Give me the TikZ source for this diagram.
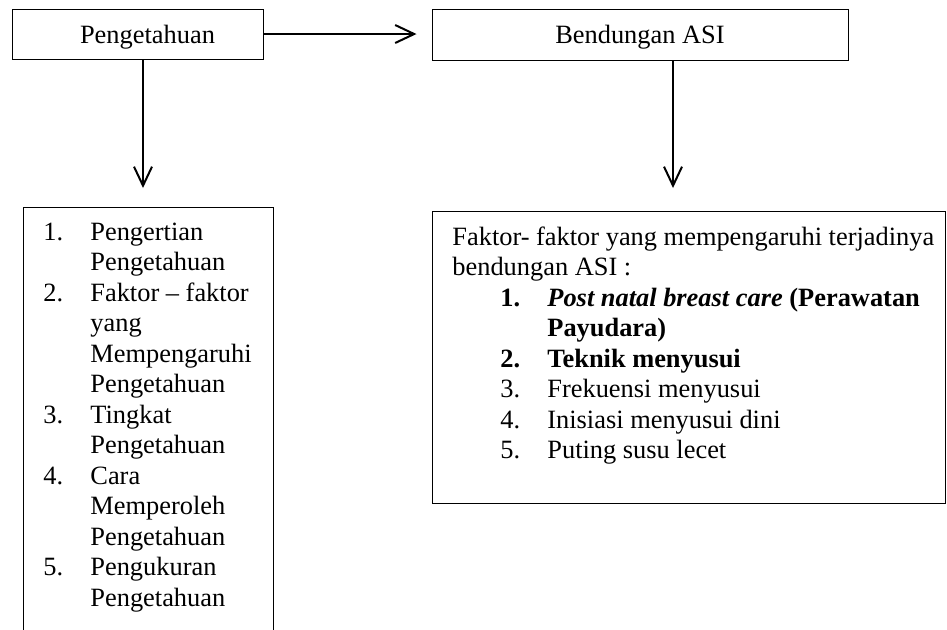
\documentclass[tikz,border=0pt]{standalone}
\usepackage{fontspec}
\setmainfont{Liberation Serif}
\usetikzlibrary{arrows.meta}
\newcommand{\butir}[2]{\makebox[23.5pt][l]{#1}#2}
\newcommand{\lanjut}[1]{\hspace*{23.5pt}#1}

\begin{document}
\begin{tikzpicture}[x=0.5pt, y=-0.5pt,
    kotak/.style={draw, line width=0.5pt, inner sep=0pt},
    panah/.style={-{Straight Barb[length=9.5pt,width=9pt]}, line width=1pt},
    teks/.style={font=\fontsize{13.2}{15.25}\selectfont}]
  \useasboundingbox (0,0) rectangle (947,629);
  % upper boxes
  \node [kotak, teks, text height=12pt, text depth=2.9pt, minimum width=125.5pt, minimum height=25pt] (peng) at (137.5,34) {\hspace*{10pt}Pengetahuan};
  \node [kotak, teks, text height=12pt, text depth=2.9pt, minimum width=208pt, minimum height=25.5pt] (bend) at (640,34.5) {Bendungan ASI};
  % lower boxes
  \node [kotak, anchor=north west, minimum width=125pt, minimum height=216.5pt] (kiri) at (23,207) {};
  \node [kotak, anchor=north west, minimum width=256.5pt, minimum height=146pt] (kanan) at (432,211) {};
  % arrows
  \draw [panah, shorten >=7.5pt] (peng.east) -- (peng.east -| bend.west);
  \draw [panah, shorten >=9.5pt] ([xshift=2.75pt]peng.south) -- ([xshift=2.75pt]peng.south |- kiri.north);
  \draw [panah, shorten >=11.5pt] ([xshift=16.5pt]bend.south) -- ([xshift=16.5pt]bend.south |- kanan.north);
  % lists
  \node [teks, anchor=north west, inner sep=0pt, align=left] (isiKiri) at (43,218.65) {%
    \strut\butir{1.}{Pengertian}\\
    \lanjut{Pengetahuan}\\
    \butir{2.}{Faktor – faktor}\\
    \lanjut{yang}\\
    \lanjut{Mempengaruhi}\\
    \lanjut{Pengetahuan}\\
    \butir{3.}{Tingkat}\\
    \lanjut{Pengetahuan}\\
    \butir{4.}{Cara}\\
    \lanjut{Memperoleh}\\
    \lanjut{Pengetahuan}\\
    \butir{5.}{Pengukuran}\\
    \lanjut{Pengetahuan}};
  \node [teks, anchor=north west, inner sep=0pt, align=left] (isiKanan) at (452,223.65) {%
    \strut Faktor- faktor yang mempengaruhi terjadinya\\
    bendungan ASI :\\
    \hspace*{24pt}\butir{\textbf{1.}}{\textbf{\textit{Post natal breast care} (Perawatan}}\\
    \hspace*{24pt}\lanjut{\textbf{Payudara)}}\\
    \hspace*{24pt}\butir{\textbf{2.}}{\textbf{Teknik menyusui}}\\
    \hspace*{24pt}\butir{3.}{Frekuensi menyusui}\\
    \hspace*{24pt}\butir{4.}{Inisiasi menyusui dini}\\
    \hspace*{24pt}\butir{5.}{Puting susu lecet}};
\end{tikzpicture}
\end{document}
